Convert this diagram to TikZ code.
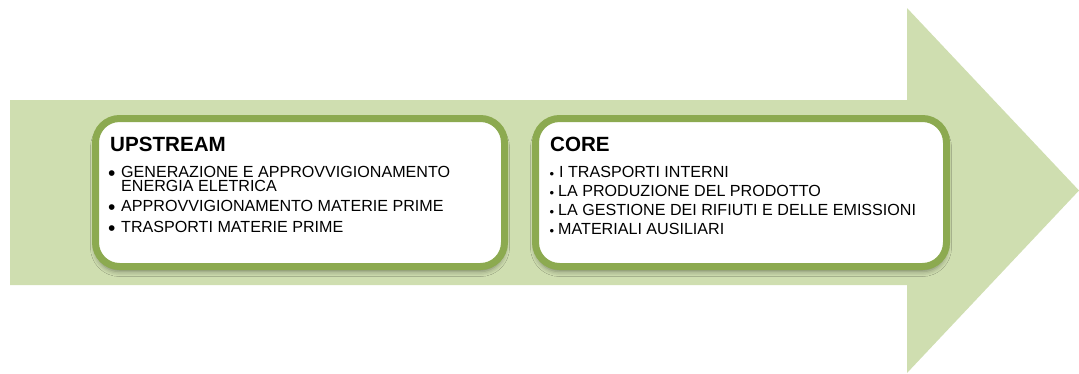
\documentclass[tikz,border=0pt]{standalone}
\usepackage{fontspec}
\setmainfont{Liberation Sans}
\usetikzlibrary{shadows.blur}
\definecolor{arrowfill}{RGB}{207,222,176}
\definecolor{boxborder}{RGB}{140,170,80}
\begin{document}
\begin{tikzpicture}[x=1pt,y=-1pt,
  bigbox/.style={draw=boxborder, line width=7pt, fill=white, rounded corners=24pt,
    inner sep=0pt, outer sep=0pt, minimum height=148pt,
    blur shadow={shadow xshift=0pt, shadow yshift=-5pt, shadow blur radius=5pt, shadow opacity=40}},
  title/.style={anchor=base west, inner sep=0pt, font=\bfseries\fontsize{20.6}{24}\selectfont},
  item/.style={anchor=base west, inner sep=0pt, font=\fontsize{16.1}{18}\selectfont},
  bigdot/.style={anchor=base west, inner sep=0pt, font=\fontsize{21}{21}\selectfont},
  smalldot/.style={anchor=base west, inner sep=0pt, font=\fontsize{13}{16}\selectfont}]
\useasboundingbox (0,0) rectangle (1079,373);
\fill[arrowfill] (10,100) -- (907,100) -- (907,8) -- (1079,190.5) -- (907,373) -- (907,285) -- (10,285) -- cycle;
\node[bigbox, minimum width=409pt] (up) at (300,192.5) {};
\node[bigbox, minimum width=411pt] (core) at (741,192.5) {};
% upstream
\node[title] (upt) at (110,151) {UPSTREAM};
\node[bigdot] (ub1) at (108,180.8) {•};
\node[item] (u1a) at (121,177.3) {GENERAZIONE E APPROVVIGIONAMENTO};
\node[item] (u1b) at (121,191.7) {ENERGIA ELETRICA};
\node[bigdot] (ub2) at (108,214.5) {•};
\node[item] (u2) at (121,211) {APPROVVIGIONAMENTO MATERIE PRIME};
\node[bigdot] (ub3) at (108,235.8) {•};
\node[item] (u3) at (121,232.3) {TRASPORTI MATERIE PRIME};
% core
\node[title] (ct) at (550,151) {CORE};
\node[smalldot] (cb1) at (549.5,178.3) {•};
\node[item] (c1) at (559,177.3) {I TRASPORTI INTERNI};
\node[smalldot] (cb2) at (549.5,197.7) {•};
\node[item] (c2) at (558,196.7) {LA PRODUZIONE DEL PRODOTTO};
\node[smalldot] (cb3) at (549.5,216) {•};
\node[item] (c3) at (558,215) {LA GESTIONE DEI RIFIUTI E DELLE EMISSIONI};
\node[smalldot] (cb4) at (549.5,235.3) {•};
\node[item] (c4) at (558,234.3) {MATERIALI AUSILIARI};
\end{tikzpicture}
\end{document}
